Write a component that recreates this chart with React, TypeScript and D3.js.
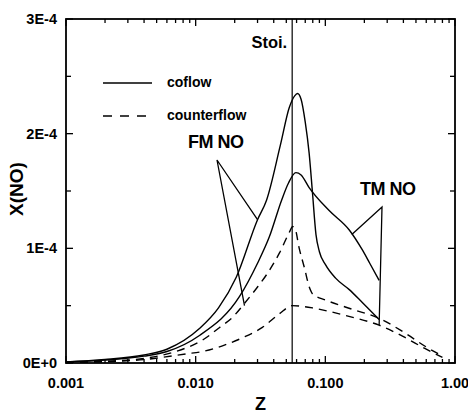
import React from 'react';
import * as d3 from 'd3';

const W = 468,
      H = 414,
      margin = { left: 66, right: 12, top: 19, bottom: 51 };

// Z vs X(NO)
const fmCoflow = [
  [0.001, 0.01e-4], [0.002, 0.03e-4], [0.004, 0.07e-4], [0.006, 0.12e-4],
  [0.0107, 0.3e-4], [0.015, 0.48e-4], [0.0206, 0.75e-4], [0.03, 1.25e-4],
  [0.0352, 1.42e-4], [0.045, 1.9e-4], [0.0528, 2.23e-4], [0.058, 2.33e-4],
  [0.061, 2.35e-4], [0.065, 2.3e-4], [0.07, 2.1e-4], [0.075, 1.83e-4],
  [0.0794, 1.5e-4], [0.0847, 1.12e-4], [0.09, 0.97e-4], [0.1, 0.86e-4],
  [0.12, 0.74e-4], [0.153, 0.64e-4], [0.192, 0.53e-4], [0.26, 0.38e-4]
];

const tmCoflow = [
  [0.001, 0.01e-4], [0.002, 0.025e-4], [0.004, 0.06e-4], [0.006, 0.1e-4],
  [0.0107, 0.24e-4], [0.0218, 0.58e-4], [0.03, 0.87e-4], [0.037, 1.1e-4],
  [0.046, 1.42e-4], [0.052, 1.57e-4], [0.0593, 1.66e-4], [0.065, 1.64e-4],
  [0.075, 1.53e-4], [0.107, 1.33e-4], [0.153, 1.16e-4], [0.192, 0.99e-4],
  [0.22, 0.87e-4], [0.26, 0.72e-4]
];

const fmCounterflow = [
  [0.001, 0.005e-4], [0.002, 0.015e-4], [0.004, 0.04e-4], [0.007, 0.1e-4],
  [0.0113, 0.2e-4], [0.0153, 0.31e-4], [0.0193, 0.4e-4], [0.0238, 0.52e-4],
  [0.0294, 0.65e-4], [0.0352, 0.77e-4], [0.0443, 0.96e-4], [0.0528, 1.14e-4],
  [0.056, 1.19e-4], [0.0585, 1.17e-4], [0.0629, 1.0e-4], [0.069, 0.83e-4],
  [0.0753, 0.66e-4], [0.08, 0.6e-4], [0.1, 0.55e-4], [0.16, 0.47e-4],
  [0.26, 0.39e-4], [0.4, 0.27e-4], [0.6, 0.14e-4], [0.8, 0.06e-4]
];

const tmCounterflow = [
  [0.001, 0.005e-4], [0.002, 0.012e-4], [0.004, 0.03e-4], [0.0085, 0.08e-4],
  [0.0113, 0.1e-4], [0.0161, 0.15e-4], [0.023, 0.22e-4], [0.0327, 0.31e-4],
  [0.0443, 0.43e-4], [0.0555, 0.5e-4], [0.08, 0.48e-4], [0.107, 0.45e-4],
  [0.16, 0.4e-4], [0.26, 0.33e-4], [0.4, 0.23e-4], [0.6, 0.12e-4],
  [0.8, 0.05e-4]
];

const zStoi = 0.0555;

const xTicks = [0.001, 0.01, 0.1, 1],
      xTickLabels = ['0.001', '0.010', '0.100', '1.00'],
      yTicks = [0, 1e-4, 2e-4, 3e-4],
      yTickLabels = ['0E+0', '1E-4', '2E-4', '3E-4'];

const x = d3.scaleLog()
            .domain([0.001, 1])
            .range([margin.left, W - margin.right - 1]);

const y = d3.scaleLinear()
            .domain([0, 3e-4])
            .range([H - margin.bottom, margin.top]);

const line = d3.line()
               .x(d => x(d[0]))
               .y(d => y(d[1]))
               .curve(d3.curveMonotoneX);

const font = 'Arial, "Liberation Sans", sans-serif';

export default function App() {
  const [x0, x1] = x.range(),
        [y0, y1] = y.range();

  const logTicks = x.ticks().filter(t => t >= 0.001 && t <= 1);
  const yMinor = d3.range(0, 3.01e-4, 0.5e-4);

  return (
    <svg width={W} height={H}
         style={{ position: 'absolute', left: 0, top: 0, background: '#fff' }}
         fontFamily={font} fontWeight="bold">

      {/* log ticks, bottom and top, pointing inward */}
      {logTicks.map((t, i) => {
        const major = xTicks.some(m => Math.abs(m - t) < 1e-9);
        const len = major ? 7 : 4;
        return (
          <g key={'xt' + i} stroke="#000" strokeWidth={1.3}>
            <line x1={x(t)} x2={x(t)} y1={y0} y2={y0 - len} />
            <line x1={x(t)} x2={x(t)} y1={y1} y2={y1 + len} />
          </g>
        );
      })}

      {/* y ticks, left and right */}
      {yMinor.map((t, i) => {
        const len = i % 2 === 0 ? 7 : 5;
        return (
          <g key={'yt' + i} stroke="#000" strokeWidth={1.3}>
            <line x1={x0} x2={x0 + len} y1={y(t)} y2={y(t)} />
            <line x1={x1} x2={x1 - len} y1={y(t)} y2={y(t)} />
          </g>
        );
      })}

      <rect x={x0} y={y1} width={x1 - x0} height={y0 - y1}
            fill="none" stroke="#000" strokeWidth={1.8} />

      {xTicks.map((t, i) =>
        <text key={'xl' + i} x={x(t)} y={y0 + 25} fontSize={14.5}
              textAnchor="middle">{xTickLabels[i]}</text>
      )}
      {yTicks.map((t, i) =>
        <text key={'yl' + i} x={x0 - 9} y={y(t) + 5} fontSize={14.5}
              textAnchor="end">{yTickLabels[i]}</text>
      )}

      <text x={(x0 + x1) / 2} y={410} fontSize={18} textAnchor="middle">Z</text>
      <text transform="translate(23,189) rotate(-90)" fontSize={19}
            textAnchor="middle">X(NO)</text>

      {/* stoichiometric line */}
      <line x1={x(zStoi)} x2={x(zStoi)} y1={y1} y2={y0}
            stroke="#000" strokeWidth={1.2} />
      <text x={x(zStoi) - 5} y={48} fontSize={16.5} textAnchor="end">Stoi.</text>

      {/* curves */}
      <g fill="none" stroke="#000" strokeWidth={1.4}>
        <path d={line(fmCoflow)} />
        <path d={line(tmCoflow)} />
        <path d={line(fmCounterflow)} strokeDasharray="8,6" />
        <path d={line(tmCounterflow)} strokeDasharray="8,6" />
      </g>

      {/* legend */}
      <line x1={103} x2={152} y1={83} y2={83} stroke="#000" strokeWidth={1.3} />
      <text x={167} y={87} fontSize={14}>coflow</text>
      <line x1={103} x2={150} y1={116} y2={116} stroke="#000"
            strokeWidth={1.3} strokeDasharray="9,8" />
      <text x={167} y={120} fontSize={14}>counterflow</text>

      {/* annotations */}
      <text x={188} y={148} fontSize={18} letterSpacing={-0.5}>FM NO</text>
      <polyline points={`${x(0.03)},${y(1.25e-4)} 217,160 ${x(0.0238)},${y(0.5e-4)}`}
                fill="none" stroke="#000" strokeWidth={1.3} />
      <text x={360} y={195} fontSize={18} letterSpacing={-0.5}>TM NO</text>
      <polyline points={`${x(0.16)},${y(1.12e-4)} 382,207 ${x(0.26)},${y(0.33e-4)}`}
                fill="none" stroke="#000" strokeWidth={1.3} />
    </svg>
  );
}
